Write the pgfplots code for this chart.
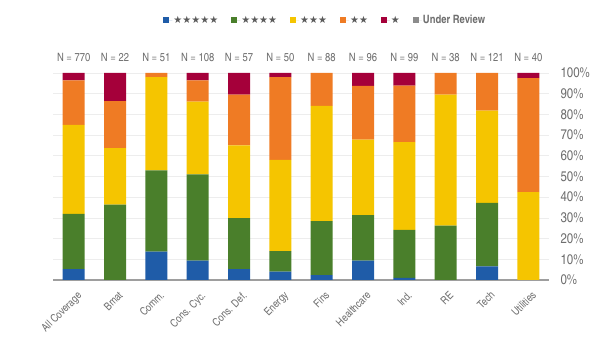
\documentclass[border=0pt]{standalone}
\usepackage{pgfplots}
\pgfplotsset{compat=1.18}
\usepackage{fontspec}
\setmainfont{texgyreheroscn}[Extension=.otf, UprightFont=*-regular, BoldFont=*-bold, ItalicFont=*-italic, BoldItalicFont=*-bolditalic]
\newfontfamily\starfont{DejaVu Sans}
\definecolor{cblue}{HTML}{1F5CA8}
\definecolor{cgreen}{HTML}{4A7F2B}
\definecolor{cyellow}{HTML}{F5C500}
\definecolor{corange}{HTML}{EF7B24}
\definecolor{cred}{HTML}{A5003A}
\definecolor{cgray}{HTML}{8C8C8C}
\definecolor{txtgray}{HTML}{6E6E6E}
\definecolor{stargray}{HTML}{5A5A5A}
\tikzset{nlab/.style={font=\fontsize{11.5}{13}\selectfont, text=txtgray, yshift=16pt}}
\newcommand{\stars}[1]{{\starfont\fontsize{10}{11}\selectfont\color{stargray}#1}}
\begin{document}
\begin{tikzpicture}
\useasboundingbox (0,0) rectangle (611pt,351pt);
\begin{axis}[
  at={(53pt,71pt)}, anchor=south west,
  scale only axis, width=496pt, height=207pt,
  xmin=-0.5, xmax=11.5, ymin=0, ymax=100,
  clip=false,
  ybar stacked, bar width=22pt,
  axis x line*=bottom, axis y line*=right,
  x axis line style={draw=black!38, line width=1.2pt},
  y axis line style={draw=none},
  xtick={0,...,11},
  xticklabels={All Coverage,Bmat,Comm.,Cons. Cyc.,Cons. Def.,Energy,Fins,Healthcare,Ind.,RE,Tech,Utilities},
  xtick style={draw=none}, ytick style={draw=none},
  ytick={0,10,...,100},
  yticklabel={\pgfmathprintnumber{\tick}\%},
  /pgf/number format/assume math mode=true,
  yticklabel style={anchor=west, xshift=8pt, font=\fontsize{14}{16}\selectfont, text=txtgray},
  xticklabel style={rotate=45, anchor=north east, font=\fontsize{11}{13}\selectfont, text=txtgray, xshift=-2pt, yshift=-6pt},
  ymajorgrids, grid style={draw=black!7, line width=0.6pt},
  legend image code/.code={\path (0pt,0pt) -- (9pt,0pt); \fill[#1] (0pt,-3pt) rectangle (6pt,3pt);},
  legend style={at={(0.548,1.255)}, anchor=center, draw=none, fill=none,
    legend columns=-1, font=\fontsize{11.5}{13}\selectfont,
    /tikz/every even column/.append style={column sep=12pt},
    nodes={inner sep=1pt}},
]
\addplot[fill=cblue, draw=none] coordinates {(0,5.3) (1,0) (2,13.7) (3,9.3) (4,5.3) (5,4) (6,2.3) (7,9.4) (8,1.0) (9,0) (10,6.6) (11,0)};
\addplot[fill=cgreen, draw=none] coordinates {(0,26.7) (1,36.4) (2,39.2) (3,41.7) (4,24.6) (5,10) (6,26.1) (7,21.9) (8,23.2) (9,26.3) (10,30.6) (11,0)};
\addplot[fill=cyellow, draw=none] coordinates {(0,42.9) (1,27.3) (2,45.1) (3,35.2) (4,35.1) (5,44) (6,55.7) (7,36.5) (8,42.4) (9,63.2) (10,44.6) (11,42.5)};
\addplot[fill=corange, draw=none] coordinates {(0,21.5) (1,22.7) (2,2.0) (3,10.2) (4,24.6) (5,40) (6,15.9) (7,26.0) (8,27.3) (9,10.5) (10,18.2) (11,55)};
\addplot[fill=cred, draw=none] coordinates {(0,3.6) (1,13.6) (2,0) (3,3.7) (4,10.5) (5,2) (6,0) (7,6.2) (8,6.1) (9,0) (10,0) (11,2.5)};
\addlegendimage{fill=cgray, draw=none}
\legend{\stars{★★★★★},\stars{★★★★},\stars{★★★},\stars{★★},\stars{★},{\bfseries\color{txtgray}Under Review}}
\node[nlab] at (axis cs:0,100) {N = 770};
\node[nlab] at (axis cs:1,100) {N = 22};
\node[nlab] at (axis cs:2,100) {N = 51};
\node[nlab] at (axis cs:3,100) {N = 108};
\node[nlab] at (axis cs:4,100) {N = 57};
\node[nlab] at (axis cs:5,100) {N = 50};
\node[nlab] at (axis cs:6,100) {N = 88};
\node[nlab] at (axis cs:7,100) {N = 96};
\node[nlab] at (axis cs:8,100) {N = 99};
\node[nlab] at (axis cs:9,100) {N = 38};
\node[nlab] at (axis cs:10,100) {N = 121};
\node[nlab] at (axis cs:11,100) {N = 40};
\end{axis}
\end{tikzpicture}
\end{document}
